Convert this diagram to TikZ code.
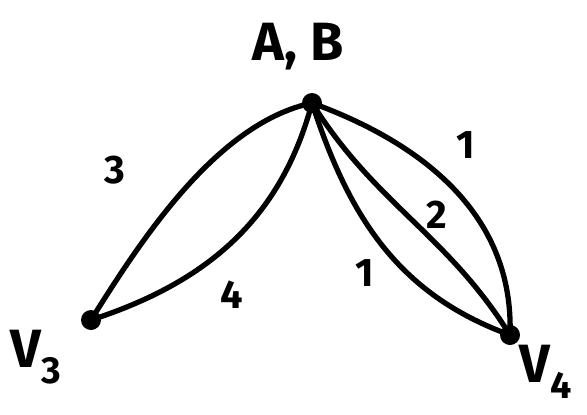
\documentclass[tikz,border=0pt]{standalone}
\usepackage{fontspec}
\setmainfont{Fira Sans}
\usepackage{tikz}

\tikzset{
  vert/.style={circle,fill=black,inner sep=0pt,minimum size=0.6cm},
  edge/.style={line width=4.5pt,line cap=round},
  elab/.style={font=\fontsize{34}{34}\selectfont\bfseries},
  vlab/.style={font=\fontsize{46}{46}\selectfont\bfseries}
}

\begin{document}
\begin{tikzpicture}[x=0.03cm,y=-0.03cm]
  \useasboundingbox (0,0) rectangle (587,414);
  \node[vert] (ab) at (312,103) {};
  \node[vert] (v3) at (91,320) {};
  \node[vert] (v4) at (510,335) {};
  \node[vlab] (abl) at (298,47) {A, B};
  \node[vlab] (v3l) at (36,357) {V\textsubscript{3}};
  \node[vlab] (v4l) at (546,372) {V\textsubscript{4}};
  % edges to v3
  \draw[edge] (ab.center) to[out=192,in=58,looseness=0.8] (v3.center);
  \draw[edge] (ab.center) to[out=-105,in=18] (v3.center);
  % edges to v4
  \draw[edge] (ab.center) to[out=-20,in=88] (v4.center);
  \draw[edge] (ab.center) to[out=-58,in=122] (v4.center);
  \draw[edge] (ab.center) to[out=-72,in=160] (v4.center);
  % weights
  \node[elab] (w3) at (115,170) {3};
  \node[elab] (w4) at (232,295) {4};
  \node[elab] (w1a) at (466,145) {1};
  \node[elab] (w2) at (437,215) {2};
  \node[elab] (w1b) at (365,273) {1};
\end{tikzpicture}
\end{document}
